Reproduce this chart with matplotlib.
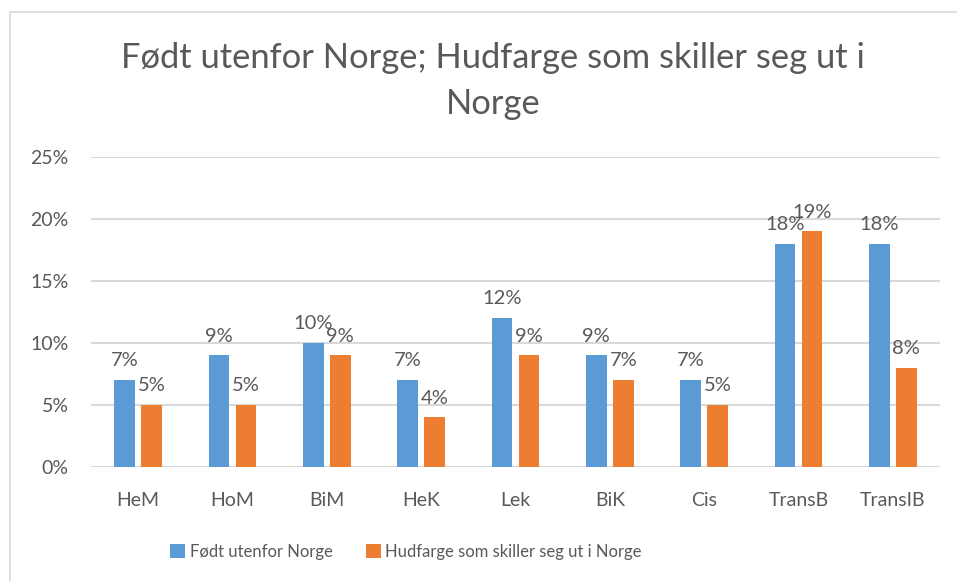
import matplotlib.pyplot as plt
import numpy as np
from matplotlib.patches import Rectangle

plt.rcParams['font.family'] = ['Lato', 'DejaVu Sans']

categories = ['HeM', 'HoM', 'BiM', 'HeK', 'Lek', 'BiK', 'Cis', 'TransB', 'TransIB']
fodt_utenfor = [0.07, 0.09, 0.10, 0.07, 0.12, 0.09, 0.07, 0.18, 0.18]
hudfarge = [0.05, 0.05, 0.09, 0.04, 0.09, 0.07, 0.05, 0.19, 0.08]
series_names = ['Født utenfor Norge', 'Hudfarge som skiller seg ut i Norge']
yticks = [0, 0.05, 0.10, 0.15, 0.20, 0.25]

blue = '#5B9BD5'
orange = '#ED7D31'
txt = '#595959'
grid = '#D9D9D9'

W, H = 957, 581
fig = plt.figure(figsize=(W / 100, H / 100), dpi=100)
fig.patches.append(Rectangle((10 / W, -0.01), 1.0, 1 - 12 / H + 0.01,
                             transform=fig.transFigure, fill=False,
                             edgecolor=grid, linewidth=1.2))

ax = fig.add_axes([91 / W, (H - 467) / H, (940 - 91) / W, (467 - 157) / H])
x = np.arange(len(categories))
bw = 0.222
off = 0.143
b1 = ax.bar(x - off, fodt_utenfor, bw, color=blue, label=series_names[0])
b2 = ax.bar(x + off, hudfarge, bw, color=orange, label=series_names[1])

for bars, vals in ((b1, fodt_utenfor), (b2, hudfarge)):
    for r, v in zip(bars, vals):
        ax.annotate(f'{round(v * 100)}%', (r.get_x() + r.get_width() / 2, v),
                    xytext=(0, 10), textcoords='offset points',
                    ha='center', va='baseline', fontsize=14.5, color=txt)

ax.set_xlim(-0.5, len(categories) - 0.5)
ax.set_ylim(0, 0.25)
ax.set_yticks(yticks)
ax.set_yticklabels([f'{round(t * 100)}%' for t in yticks])
ax.set_xticks(x)
ax.set_xticklabels(categories)
ax.tick_params(axis='both', length=0, labelsize=14, labelcolor=txt)
ax.tick_params(axis='x', pad=18)
ax.tick_params(axis='y', pad=16)
ax.grid(axis='y', color=grid, linewidth=1.5)
ax.set_axisbelow(True)
for s in ax.spines.values():
    s.set_visible(False)

# title block: line centres at about y=58 and y=103 px
fig.text(493 / W, 1 - 81 / H, 'Født utenfor Norge; Hudfarge som skiller seg ut i\nNorge',
         ha='center', va='center', fontsize=24.8, color=txt, linespacing=1.5)

fig.legend(loc='center', bbox_to_anchor=(406 / W, 1 - 552 / H), ncol=2,
           frameon=False, fontsize=12, labelcolor=txt, handlelength=0.9,
           handleheight=0.9, handletextpad=0.25, columnspacing=2.0)

fig.savefig('out.png', dpi=100)
